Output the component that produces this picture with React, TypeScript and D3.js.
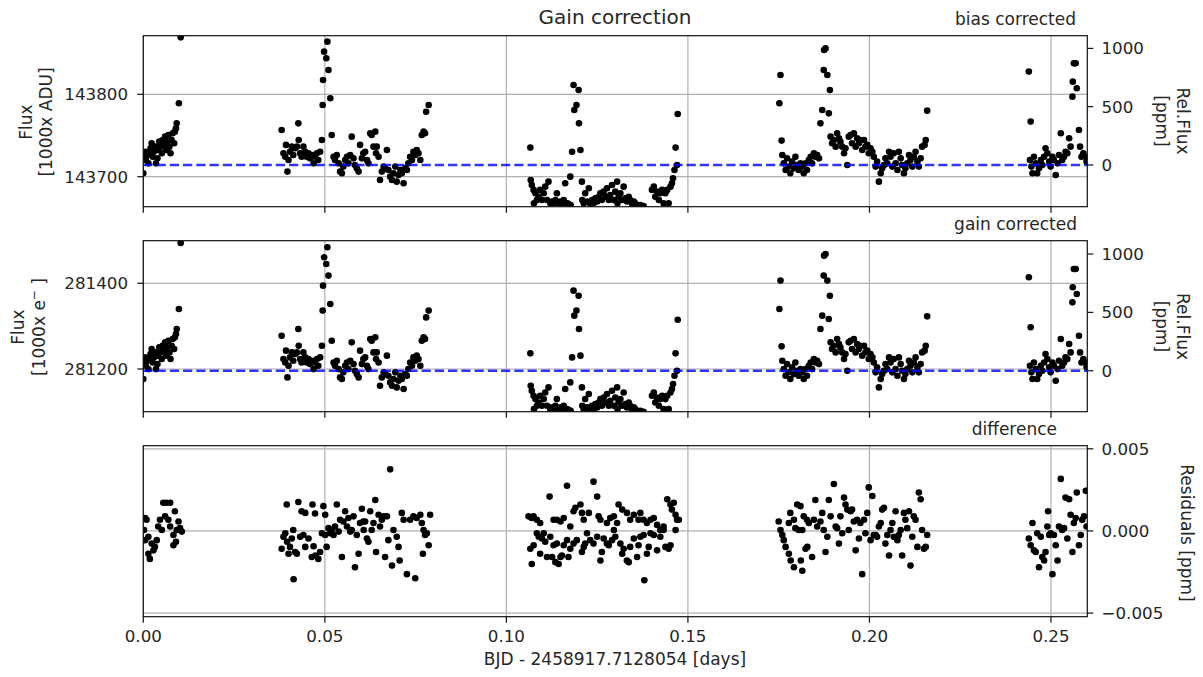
import React from "react";
import * as d3 from "d3";

type Pt = [number, number];

// ---------- axis ticks ----------
const xTicks = [0, 0.05, 0.1, 0.15, 0.2, 0.25];
const biasFluxTicks = [143700, 143800];
const gainFluxTicks = [281200, 281400];
const relFluxTicks = [0, 500, 1000];
const residualTicks = [-0.005, 0, 0.005];

// ---------- axis limits ----------
const xDomain: Pt = [0, 0.26];
const biasFluxDomain: Pt = [143663.6, 143871.1];
const biasRelDomain: Pt = [-358, 1109];
const gainFluxDomain: Pt = [281100.3, 281499.4];
const gainRelDomain: Pt = [-351, 1114];
const residualDomain: Pt = [-0.00522, 0.00519];

// ---------- bias corrected relative flux [day, ppm] ----------
const biasCorrected: Pt[] = [
  [0.0000,-71],[0.0002,71],[0.0005,114],[0.0007,43],[0.0011,86],[0.0014,14],[0.0017,100],[0.0020,143],[0.0023,186],[0.0026,71],[0.0029,114],[0.0032,157],[0.0035,14],[0.0039,57],[0.0041,129],[0.0044,200],[0.0048,157],[0.0051,100],[0.0053,214],[0.0057,172],[0.0060,243],[0.0063,129],[0.0066,200],[0.0069,257],[0.0072,157],[0.0075,100],[0.0078,214],[0.0081,272],[0.0085,186],[0.0087,286],[0.0090,314],[0.0092,357],[0.0098,529],[0.0103,1095],
  [0.0381,300],[0.0386,100],[0.0391,71],[0.0393,172],[0.0397,-57],[0.0400,43],[0.0404,114],[0.0409,157],[0.0413,86],[0.0418,143],[0.0423,157],[0.0427,357],[0.0428,214],[0.0432,100],[0.0436,71],[0.0441,157],[0.0446,114],[0.0450,71],[0.0455,100],[0.0459,57],[0.0464,86],[0.0469,14],[0.0473,71],[0.0478,100],[0.0482,43],[0.0487,114],[0.0492,214],[0.0494,515],[0.0495,729],[0.0498,972],[0.0504,915],[0.0507,1058],[0.0510,815],[0.0515,572],[0.0519,257],[0.0524,71],[0.0528,43],[0.0533,86],[0.0538,14],[0.0542,-57],[0.0547,-71],[0.0551,-14],[0.0556,43],[0.0561,71],[0.0565,14],[0.0570,86],[0.0574,243],[0.0579,57],[0.0583,0],[0.0588,-29],[0.0593,-57],[0.0597,172],[0.0602,57],[0.0606,100],[0.0611,114],[0.0616,43],[0.0620,14],[0.0625,272],[0.0629,257],[0.0634,157],[0.0639,286],[0.0641,100],[0.0643,157],[0.0648,71],[0.0652,-129],[0.0657,-57],[0.0662,-14],[0.0666,-29],[0.0671,129],[0.0675,-43],[0.0680,-100],[0.0685,-129],[0.0689,-71],[0.0694,-14],[0.0698,-143],[0.0703,-86],[0.0708,-43],[0.0712,-71],[0.0717,-157],[0.0721,-29],[0.0726,-43],[0.0730,14],[0.0735,71],[0.0740,43],[0.0744,114],[0.0749,86],[0.0753,129],[0.0758,100],[0.0763,43],[0.0767,257],[0.0772,286],[0.0776,272],[0.0779,457],[0.0786,515],
  [0.1066,149],[0.1067,-129],[0.1070,-172],[0.1075,-214],[0.1076,-329],[0.1080,-243],[0.1084,-300],[0.1089,-272],[0.1093,-214],[0.1098,-300],[0.1103,-243],[0.1107,-186],[0.1112,-300],[0.1116,-143],[0.1121,-329],[0.1126,-314],[0.1130,-329],[0.1135,-300],[0.1139,-243],[0.1144,-329],[0.1149,-314],[0.1153,-334],[0.1158,-300],[0.1162,-157],[0.1167,-329],[0.1171,-334],[0.1176,-100],[0.1177,-343],[0.1181,114],[0.1185,686],[0.1187,472],[0.1193,515],[0.1199,643],[0.1200,357],[0.1204,129],[0.1208,-143],[0.1209,-300],[0.1213,-329],[0.1217,-243],[0.1222,-314],[0.1227,-200],[0.1231,-334],[0.1236,-300],[0.1240,-329],[0.1245,-286],[0.1250,-314],[0.1254,-272],[0.1259,-243],[0.1263,-300],[0.1268,-229],[0.1273,-272],[0.1277,-200],[0.1282,-300],[0.1286,-257],[0.1291,-172],[0.1296,-300],[0.1300,-229],[0.1305,-143],[0.1306,-329],[0.1309,-272],[0.1314,-243],[0.1319,-300],[0.1323,-186],[0.1328,-286],[0.1332,-314],[0.1337,-272],[0.1341,-300],[0.1346,-334],[0.1351,-314],[0.1355,-329],[0.1360,-343],[0.1369,-343],[0.1378,-352],[0.1401,-214],[0.1406,-186],[0.1410,-272],[0.1415,-229],[0.1420,-300],[0.1424,-243],[0.1429,-214],[0.1433,-329],[0.1438,-243],[0.1443,-214],[0.1447,-329],[0.1452,-186],[0.1456,-157],[0.1459,-114],[0.1463,-43],[0.1466,149],[0.1470,0],[0.1472,437],
  [0.1752,529],[0.1755,772],[0.1758,209],[0.1760,86],[0.1764,14],[0.1769,-43],[0.1773,57],[0.1778,-14],[0.1782,-71],[0.1787,29],[0.1792,-29],[0.1796,71],[0.1801,0],[0.1805,-43],[0.1810,14],[0.1815,-14],[0.1819,-71],[0.1824,14],[0.1828,-43],[0.1833,43],[0.1838,71],[0.1842,14],[0.1847,100],[0.1851,71],[0.1856,86],[0.1861,57],[0.1865,357],[0.1870,472],[0.1874,815],[0.1875,986],[0.1879,1000],[0.1884,772],[0.1888,443],[0.1891,643],[0.1893,243],[0.1897,186],[0.1902,214],[0.1907,157],[0.1911,272],[0.1916,229],[0.1920,200],[0.1925,157],[0.1930,100],[0.1934,143],[0.1939,0],[0.1943,243],[0.1948,257],[0.1952,186],[0.1957,272],[0.1962,157],[0.1966,229],[0.1971,186],[0.1975,214],[0.1980,129],[0.1985,214],[0.1989,157],[0.1994,172],[0.1998,100],[0.2003,143],[0.2008,114],[0.2012,71],[0.2017,-14],[0.2021,29],[0.2026,-143],[0.2031,-71],[0.2035,-29],[0.2040,0],[0.2044,57],[0.2049,14],[0.2054,114],[0.2058,71],[0.2063,-14],[0.2067,100],[0.2072,14],[0.2077,-43],[0.2081,114],[0.2086,57],[0.2090,0],[0.2095,-71],[0.2099,-29],[0.2104,14],[0.2109,86],[0.2113,43],[0.2118,-14],[0.2122,71],[0.2127,114],[0.2132,29],[0.2136,-14],[0.2141,57],[0.2145,157],[0.2152,172],[0.2155,214],[0.2159,466],
  [0.2439,801],[0.2442,43],[0.2444,372],[0.2446,-14],[0.2449,-71],[0.2453,71],[0.2458,14],[0.2462,-71],[0.2467,-29],[0.2472,43],[0.2476,0],[0.2481,71],[0.2485,143],[0.2490,100],[0.2495,29],[0.2499,-14],[0.2504,71],[0.2508,43],[0.2513,-86],[0.2518,14],[0.2522,86],[0.2527,272],[0.2531,43],[0.2536,71],[0.2540,114],[0.2545,100],[0.2550,229],[0.2554,157],[0.2559,586],[0.2560,715],[0.2563,872],[0.2568,872],[0.2571,658],[0.2577,300],[0.2580,157],[0.2584,71],[0.2589,100],[0.2596,71],[0.2598,29],
];

// gain corrected relative flux is visually identical to the bias corrected one
const gainCorrected: Pt[] = biasCorrected;

// ---------- residuals (difference) [day, value] ----------
const residuals: Pt[] = [
  [0.0002,0.06e-3],[0.0005,0.79e-3],[0.0009,0.68e-3],[0.0005,-0.56e-3],[0.0014,-0.35e-3],[0.0014,-1.39e-3],[0.0018,-1.70e-3],[0.0023,-0.77e-3],[0.0028,-1.18e-3],[0.0032,-0.97e-3],[0.0037,-0.56e-3],[0.0041,0.27e-3],[0.0046,0.68e-3],[0.0051,0.06e-3],[0.0055,1.72e-3],[0.0060,0.89e-3],[0.0064,1.72e-3],[0.0069,0.68e-3],[0.0074,1.72e-3],[0.0074,0.27e-3],[0.0083,-0.25e-3],[0.0083,-0.87e-3],[0.0087,1.20e-3],[0.0090,-0.66e-3],[0.0092,0.06e-3],[0.0097,0.58e-3],[0.0101,0.17e-3],[0.0106,-0.04e-3],
  [0.0381,-1.08e-3],[0.0386,-0.35e-3],[0.0391,-0.14e-3],[0.0395,1.61e-3],[0.0396,-0.66e-3],[0.0400,-1.39e-3],[0.0404,-0.97e-3],[0.0409,-0.46e-3],[0.0413,0.06e-3],[0.0414,-2.94e-3],[0.0418,-1.28e-3],[0.0423,-1.39e-3],[0.0427,1.76e-3],[0.0432,-0.35e-3],[0.0436,1.20e-3],[0.0441,-0.25e-3],[0.0446,1.10e-3],[0.0446,-0.97e-3],[0.0455,-0.46e-3],[0.0464,-1.59e-3],[0.0466,1.61e-3],[0.0469,-0.93e-3],[0.0473,1.06e-3],[0.0474,-1.49e-3],[0.0482,-1.70e-3],[0.0487,-1.28e-3],[0.0492,-0.14e-3],[0.0496,1.51e-3],[0.0501,0.99e-3],[0.0501,-0.25e-3],[0.0505,-0.97e-3],[0.0510,0.17e-3],[0.0515,-0.14e-3],[0.0519,0.06e-3],[0.0524,-0.25e-3],[0.0528,0.27e-3],[0.0533,1.61e-3],[0.0538,-0.04e-3],[0.0542,0.68e-3],[0.0547,-1.59e-3],[0.0551,0.58e-3],[0.0556,1.20e-3],[0.0561,0.27e-3],[0.0565,0.79e-3],[0.0570,-0.04e-3],[0.0574,0.06e-3],[0.0579,0.89e-3],[0.0583,-2.21e-3],[0.0588,-0.25e-3],[0.0593,-1.39e-3],[0.0597,0.48e-3],[0.0602,1.35e-3],[0.0606,0.58e-3],[0.0607,0.06e-3],[0.0611,0.58e-3],[0.0616,-0.46e-3],[0.0620,-0.66e-3],[0.0625,1.20e-3],[0.0629,0.06e-3],[0.0634,0.48e-3],[0.0639,1.88e-3],[0.0641,-1.28e-3],[0.0648,0.99e-3],[0.0652,0.27e-3],[0.0657,0.68e-3],[0.0662,0.89e-3],[0.0666,-1.59e-3],[0.0671,0.89e-3],[0.0675,-0.56e-3],[0.0680,3.75e-3],[0.0685,-2.11e-3],[0.0689,0.06e-3],[0.0698,-0.35e-3],[0.0703,-0.97e-3],[0.0706,-1.80e-3],[0.0712,1.10e-3],[0.0717,0.68e-3],[0.0726,-2.63e-3],[0.0735,0.68e-3],[0.0744,0.89e-3],[0.0749,-2.88e-3],[0.0753,0.79e-3],[0.0763,0.99e-3],[0.0767,0.48e-3],[0.0770,-1.39e-3],[0.0772,0.06e-3],[0.0776,-0.25e-3],[0.0781,-0.14e-3],[0.0786,-0.87e-3],[0.0790,0.99e-3],
  [0.1061,0.89e-3],[0.1070,0.79e-3],[0.1075,0.89e-3],[0.1084,0.68e-3],[0.1093,0.48e-3],[0.1119,2.09e-3],[0.1130,0.68e-3],[0.1139,0.68e-3],[0.1149,0.58e-3],[0.1158,0.79e-3],[0.1167,2.75e-3],[0.1176,0.27e-3],[0.1185,1.20e-3],[0.1190,1.41e-3],[0.1204,1.61e-3],[0.1208,1.10e-3],[0.1213,0.68e-3],[0.1227,1.10e-3],[0.1240,3.00e-3],[0.1250,2.09e-3],[0.1254,0.89e-3],[0.1259,0.68e-3],[0.1277,0.48e-3],[0.1286,0.79e-3],[0.1296,0.89e-3],[0.1305,0.48e-3],[0.1309,1.61e-3],[0.1319,1.30e-3],[0.1332,1.10e-3],[0.1341,0.68e-3],[0.1351,0.99e-3],[0.1364,0.68e-3],[0.1369,1.10e-3],[0.1378,0.68e-3],[0.1387,0.48e-3],[0.1397,0.68e-3],[0.1406,0.79e-3],[0.1415,0.37e-3],[0.1424,0.06e-3],[0.1433,0.27e-3],[0.1443,1.93e-3],[0.1452,1.61e-3],[0.1456,1.30e-3],[0.1461,1.72e-3],[0.1466,0.99e-3],[0.1470,0.68e-3],[0.1475,0.68e-3],
  [0.1066,-1.08e-3],[0.1070,-2.01e-3],[0.1075,-0.87e-3],[0.1084,-0.14e-3],[0.1089,-0.35e-3],[0.1093,-1.39e-3],[0.1098,-0.46e-3],[0.1103,-0.14e-3],[0.1107,-0.66e-3],[0.1112,-1.59e-3],[0.1121,-0.35e-3],[0.1126,-1.59e-3],[0.1130,-0.87e-3],[0.1135,-1.90e-3],[0.1139,-0.77e-3],[0.1144,-2.01e-3],[0.1149,-1.59e-3],[0.1153,-1.49e-3],[0.1158,-0.87e-3],[0.1167,-0.56e-3],[0.1171,-1.59e-3],[0.1176,-1.08e-3],[0.1185,-0.77e-3],[0.1194,-0.56e-3],[0.1208,-1.28e-3],[0.1213,-0.97e-3],[0.1217,-0.77e-3],[0.1222,-0.14e-3],[0.1231,-0.56e-3],[0.1240,-0.77e-3],[0.1250,-0.35e-3],[0.1259,-1.80e-3],[0.1263,-1.28e-3],[0.1268,-0.46e-3],[0.1277,-0.77e-3],[0.1282,-0.87e-3],[0.1291,-0.56e-3],[0.1296,0.06e-3],[0.1300,-0.35e-3],[0.1314,-0.77e-3],[0.1319,-1.39e-3],[0.1323,-1.08e-3],[0.1332,-1.80e-3],[0.1337,-1.90e-3],[0.1341,-0.97e-3],[0.1351,-0.46e-3],[0.1360,-1.59e-3],[0.1364,-0.87e-3],[0.1369,-0.35e-3],[0.1378,-0.25e-3],[0.1380,-3.00e-3],[0.1387,-1.39e-3],[0.1392,-0.97e-3],[0.1397,-0.14e-3],[0.1406,-0.25e-3],[0.1415,-1.18e-3],[0.1424,-0.35e-3],[0.1433,0.06e-3],[0.1438,-0.97e-3],[0.1447,-1.08e-3],[0.1452,-0.87e-3],[0.1466,0.06e-3],
  [0.1750,0.58e-3],[0.1755,0.06e-3],[0.1760,-0.25e-3],[0.1764,-0.56e-3],[0.1769,-0.97e-3],[0.1778,0.48e-3],[0.1778,-1.39e-3],[0.1782,1.10e-3],[0.1783,-1.80e-3],[0.1792,0.68e-3],[0.1792,-2.21e-3],[0.1796,0.17e-3],[0.1801,1.61e-3],[0.1805,0.06e-3],[0.1810,1.51e-3],[0.1811,-1.80e-3],[0.1815,0.06e-3],[0.1815,-2.42e-3],[0.1819,0.89e-3],[0.1824,-1.08e-3],[0.1828,0.68e-3],[0.1829,-0.97e-3],[0.1833,0.48e-3],[0.1842,-1.59e-3],[0.1847,0.68e-3],[0.1851,1.88e-3],[0.1856,0.27e-3],[0.1865,0.58e-3],[0.1870,1.10e-3],[0.1874,0.06e-3],[0.1879,-1.28e-3],[0.1884,-0.35e-3],[0.1888,1.88e-3],[0.1893,0.89e-3],[0.1902,2.86e-3],[0.1907,0.27e-3],[0.1911,0.17e-3],[0.1916,-0.77e-3],[0.1920,0.89e-3],[0.1925,-0.14e-3],[0.1930,2.03e-3],[0.1934,1.61e-3],[0.1939,1.30e-3],[0.1943,0.06e-3],[0.1948,1.20e-3],[0.1952,1.30e-3],[0.1957,0.58e-3],[0.1962,-1.18e-3],[0.1966,0.68e-3],[0.1971,-0.46e-3],[0.1975,0.48e-3],[0.1980,-2.63e-3],[0.1985,0.68e-3],[0.1989,-0.14e-3],[0.1994,1.10e-3],[0.1998,2.65e-3],[0.2003,-0.56e-3],[0.2008,2.13e-3],[0.2012,-0.25e-3],[0.2017,-0.25e-3],[0.2021,-0.35e-3],[0.2026,0.27e-3],[0.2031,0.48e-3],[0.2035,1.30e-3],[0.2040,1.41e-3],[0.2044,-0.77e-3],[0.2049,-0.25e-3],[0.2054,-1.49e-3],[0.2058,0.06e-3],[0.2063,0.48e-3],[0.2067,-0.35e-3],[0.2072,1.20e-3],[0.2077,-0.56e-3],[0.2081,-0.25e-3],[0.2086,0.06e-3],[0.2090,-1.49e-3],[0.2095,1.10e-3],[0.2099,0.68e-3],[0.2104,0.17e-3],[0.2109,1.20e-3],[0.2113,-2.11e-3],[0.2118,-0.35e-3],[0.2122,0.89e-3],[0.2127,0.68e-3],[0.2132,-0.97e-3],[0.2136,2.34e-3],[0.2141,1.93e-3],[0.2145,0.06e-3],[0.2150,-1.08e-3],[0.2155,-0.97e-3],[0.2159,-0.25e-3],
  [0.2439,-0.46e-3],[0.2444,-0.87e-3],[0.2449,0.48e-3],[0.2453,-1.18e-3],[0.2458,-1.28e-3],[0.2462,-0.14e-3],[0.2467,-2.21e-3],[0.2472,-0.35e-3],[0.2476,-1.59e-3],[0.2481,-1.80e-3],[0.2485,-1.28e-3],[0.2490,0.27e-3],[0.2492,1.20e-3],[0.2495,-0.25e-3],[0.2499,-0.14e-3],[0.2504,-2.63e-3],[0.2508,-0.25e-3],[0.2513,-0.87e-3],[0.2518,-1.80e-3],[0.2522,0.27e-3],[0.2527,3.17e-3],[0.2531,0.06e-3],[0.2536,0.17e-3],[0.2540,2.03e-3],[0.2545,-0.46e-3],[0.2550,1.93e-3],[0.2554,0.99e-3],[0.2559,-1.28e-3],[0.2563,0.48e-3],[0.2568,0.79e-3],[0.2571,2.34e-3],[0.2577,-0.87e-3],[0.2582,-0.25e-3],[0.2586,0.68e-3],[0.2591,0.89e-3],[0.2596,2.44e-3],[0.2598,0.27e-3],
];

// ---------- layout ----------
const W = 1203;
const H = 677;
const LEFT = 143.3;
const RIGHT = 1087.3;
const PH = 171;
const TOPS = [35.7, 240.7, 445.7];
const FONT = "DejaVu Sans";
const INK = "#262626";
const GRID = "#b0b0b0";
const FS = 16.7;

interface PanelCfg {
  idx: number;
  data: Pt[];
  rightDomain: Pt;
  rightTicks: number[];
  rightFmt: (v: number) => string;
  leftDomain?: Pt;
  leftTicks?: number[];
  zeroLine: boolean;
  subtitle: string;
  subtitleX: number;
  showXLabels: boolean;
}

export default function App() {
  const x = d3.scaleLinear().domain(xDomain).range([LEFT, RIGHT]);
  const fmtX = d3.format(".2f");
  const fmtRes = d3.format(".3f");
  const fmtInt = d3.format("d");

  const panels: PanelCfg[] = [
    { idx: 0, data: biasCorrected, rightDomain: biasRelDomain, rightTicks: relFluxTicks, rightFmt: fmtInt, leftDomain: biasFluxDomain, leftTicks: biasFluxTicks, zeroLine: true, subtitle: "bias corrected", subtitleX: 1076, showXLabels: false },
    { idx: 1, data: gainCorrected, rightDomain: gainRelDomain, rightTicks: relFluxTicks, rightFmt: fmtInt, leftDomain: gainFluxDomain, leftTicks: gainFluxTicks, zeroLine: true, subtitle: "gain corrected", subtitleX: 1077, showXLabels: false },
    { idx: 2, data: residuals, rightDomain: residualDomain, rightTicks: residualTicks, rightFmt: fmtRes, zeroLine: false, subtitle: "difference", subtitleX: 1057, showXLabels: true },
  ];

  const renderPanel = (p: PanelCfg) => {
    const top = TOPS[p.idx];
    const bottom = top + PH;
    const yR = d3.scaleLinear().domain(p.rightDomain).range([bottom, top]);
    const yL = p.leftDomain ? d3.scaleLinear().domain(p.leftDomain).range([bottom, top]) : null;
    const gridYs = yL && p.leftTicks ? p.leftTicks.map((t) => yL(t)) : p.rightTicks.map((t) => yR(t));
    const clipId = `clip-${p.idx}`;
    return (
      <g key={p.idx}>
        <clipPath id={clipId}>
          <rect x={LEFT} y={top} width={RIGHT - LEFT} height={PH} />
        </clipPath>
        {/* grid */}
        {xTicks.map((t) => (
          <line key={"gx" + t} x1={x(t)} x2={x(t)} y1={top} y2={bottom} stroke={GRID} strokeWidth={1.2} />
        ))}
        {gridYs.map((gy, i) => (
          <line key={"gy" + i} x1={LEFT} x2={RIGHT} y1={gy} y2={gy} stroke={GRID} strokeWidth={1.2} />
        ))}
        {/* points */}
        <g clipPath={`url(#${clipId})`}>
          {p.data.map((d, i) => (
            <circle key={i} cx={x(d[0])} cy={yR(d[1])} r={3.3} fill="#000" />
          ))}
          {p.zeroLine && (
            <line x1={LEFT} x2={RIGHT} y1={yR(0)} y2={yR(0)} stroke="#0000ff" strokeOpacity={0.8} strokeWidth={2.5} strokeDasharray="9.25,4" />
          )}
        </g>
        {/* frame */}
        <rect x={LEFT} y={top} width={RIGHT - LEFT} height={PH} fill="none" stroke="#111" strokeWidth={1.2} />
        {/* x ticks */}
        {xTicks.map((t) => (
          <g key={"xt" + t}>
            <line x1={x(t)} x2={x(t)} y1={bottom} y2={bottom + 6} stroke="#111" strokeWidth={1.2} />
            {p.showXLabels && (
              <text x={x(t)} y={bottom + 25.5} textAnchor="middle" fontSize={FS} fill={INK}>
                {fmtX(t)}
              </text>
            )}
          </g>
        ))}
        {/* left ticks */}
        {yL && p.leftTicks && p.leftTicks.map((t) => (
          <g key={"lt" + t}>
            <line x1={LEFT - 6} x2={LEFT} y1={yL(t)} y2={yL(t)} stroke="#111" strokeWidth={1.2} />
            <text x={128} y={yL(t)} dy="0.36em" textAnchor="end" fontSize={FS} fill={INK}>
              {t}
            </text>
          </g>
        ))}
        {/* right ticks */}
        {p.rightTicks.map((t) => (
          <g key={"rt" + t}>
            <line x1={RIGHT} x2={RIGHT + 6} y1={yR(t)} y2={yR(t)} stroke="#111" strokeWidth={1.2} />
            <text x={1101.5} y={yR(t)} dy="0.36em" textAnchor="start" fontSize={FS} fill={INK}>
              {p.rightFmt(t)}
            </text>
          </g>
        ))}
        <text x={p.subtitleX} y={top - 10.7} textAnchor="end" fontSize={17} fill={INK}>
          {p.subtitle}
        </text>
      </g>
    );
  };

  return (
    <div style={{ position: "absolute", left: 0, top: 0, width: W, height: H, background: "#fff" }}>
      <svg width={W} height={H} fontFamily={FONT} style={{ display: "block" }}>
        <rect x={0} y={0} width={W} height={H} fill="#fff" />
        {panels.map(renderPanel)}
        <text x={615} y={24} textAnchor="middle" fontSize={20} fill={INK}>
          Gain correction
        </text>
        <text x={615} y={665} textAnchor="middle" fontSize={17} fill={INK}>
          BJD - 2458917.7128054 [days]
        </text>
        {/* left labels panel 1 */}
        <text transform="translate(31.5,122) rotate(-90)" textAnchor="middle" fontSize={17} fill={INK}>Flux</text>
        <text transform="translate(51.5,122) rotate(-90)" textAnchor="middle" fontSize={17} fill={INK}>[1000x ADU]</text>
        {/* left labels panel 2 */}
        <text transform="translate(23.5,327) rotate(-90)" textAnchor="middle" fontSize={17} fill={INK}>Flux</text>
        <text transform="translate(44.5,327) rotate(-90)" textAnchor="middle" fontSize={17} fill={INK}>
          [1000x e<tspan dy={-7} fontSize={12}>−</tspan><tspan dy={7}> ]</tspan>
        </text>
        {/* right labels */}
        <text transform="translate(1177,121) rotate(90)" textAnchor="middle" fontSize={17} fill={INK}>Rel.Flux</text>
        <text transform="translate(1156,121) rotate(90)" textAnchor="middle" fontSize={17} fill={INK}>[ppm]</text>
        <text transform="translate(1177,326.5) rotate(90)" textAnchor="middle" fontSize={17} fill={INK}>Rel.Flux</text>
        <text transform="translate(1156,326.5) rotate(90)" textAnchor="middle" fontSize={17} fill={INK}>[ppm]</text>
        <text transform="translate(1180.5,533) rotate(90)" textAnchor="middle" fontSize={17} fill={INK}>Residuals [ppm]</text>
      </svg>
    </div>
  );
}
